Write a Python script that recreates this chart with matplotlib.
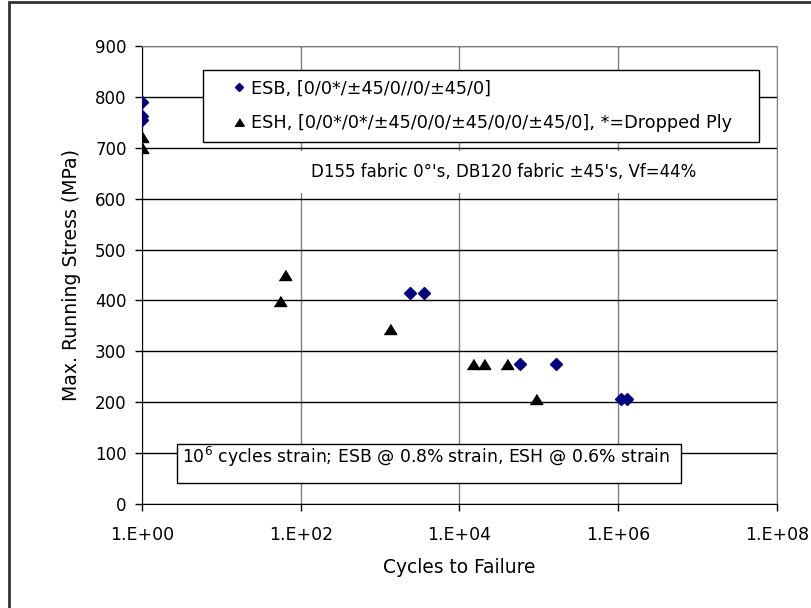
import numpy as np
import matplotlib
matplotlib.use('Agg')
import matplotlib.pyplot as plt
from matplotlib.patches import Rectangle
from matplotlib.ticker import FixedLocator, NullLocator

# ESB laminate, [0/0*/±45/0//0/±45/0]
esb_cycles = [1, 1, 1, 2350, 3570, 57300, 165000, 1.07e6, 1.29e6]
esb_stress = [790, 762, 755, 415, 415, 275, 275, 207, 207]

# ESH laminate, dropped plies
esh_cycles = [1, 1, 55.5, 63.6, 1340, 14600, 20100, 40100, 91200]
esh_stress = [722, 700, 398, 450, 344, 275, 275, 275, 206]

xticks = [1e0, 1e2, 1e4, 1e6, 1e8]
xticklabels = ['1.E+00', '1.E+02', '1.E+04', '1.E+06', '1.E+08']
yticks = [0, 100, 200, 300, 400, 500, 600, 700, 800, 900]

W, H = 812, 608
fig = plt.figure(figsize=(W/100, H/100), dpi=100)
ax = fig.add_axes([142/W, 1 - 504/H, 635/W, 458/H])

# outer chart border (only left/top visible)
fig.patches.append(Rectangle((9/W, -0.1), 1.2, 1.1 - 2.5/H, transform=fig.transFigure,
                             fill=False, edgecolor='#333333', lw=2))

tri = [(-1, -0.8), (1, -0.8), (0, 0.8)]
ax.plot(esb_cycles, esb_stress, linestyle='none', marker='D', ms=6.0, color='#000080',
        label='ESB, [0/0*/±45/0//0/±45/0]', zorder=5)
ax.plot(esh_cycles, esh_stress, linestyle='none', marker=tri, ms=9, color='black',
        label='ESH, [0/0*/0*/±45/0/0/±45/0/0/±45/0], *=Dropped Ply', zorder=5)

ax.set_xscale('log')
ax.set_xlim(1, 1e8)
ax.set_ylim(0, 900)
ax.xaxis.set_major_locator(FixedLocator(xticks))
ax.xaxis.set_minor_locator(NullLocator())
ax.set_xticklabels(xticklabels)
ax.set_yticks(yticks)

ax.grid(axis='y', color='black', lw=1)
ax.grid(axis='x', color='#808080', lw=1)
ax.set_axisbelow(True)
for s in ['top', 'right']:
    ax.spines[s].set_color('#808080')
for s in ['left', 'bottom']:
    ax.spines[s].set_color('black')
ax.tick_params(axis='both', direction='out', length=5, width=1, labelsize=12)
ax.tick_params(axis='x', labelsize=12.5, pad=11)
ax.tick_params(axis='y', pad=6)

ax.set_xlabel('Cycles to Failure', fontsize=13.4, labelpad=10)
ax.set_ylabel('Max. Running Stress (MPa)', fontsize=13.6, labelpad=10.5)

leg = ax.legend(loc='upper left', bbox_to_anchor=(61/635, 0.79, 556/635, 0.158),
                mode='expand', fontsize=12.7, frameon=True, fancybox=False,
                edgecolor='black', framealpha=1, borderpad=0.55, labelspacing=0.95,
                handlelength=3.0, handletextpad=-0.85, numpoints=1, borderaxespad=0,
                markerscale=0.75)
leg.get_frame().set_linewidth(1)
leg.set_zorder(6)

ax.text(0.569, 0.725, "D155 fabric 0°'s, DB120 fabric ±45's, Vf=44%", transform=ax.transAxes,
        ha='center', va='center', fontsize=12,
        bbox=dict(boxstyle='square,pad=0.7', fc='white', ec='none'), zorder=4)

ax.add_patch(Rectangle((35/635, 21/458), 504/635, 39/458, transform=ax.transAxes,
                       fc='white', ec='black', lw=1, zorder=4))
ax.text(40/635, 59/458, r'10$^6$ cycles strain; ESB @ 0.8% strain, ESH @ 0.6% strain',
        transform=ax.transAxes, ha='left', va='top', fontsize=12.4, zorder=5)

fig.savefig('out.png', dpi=100)
